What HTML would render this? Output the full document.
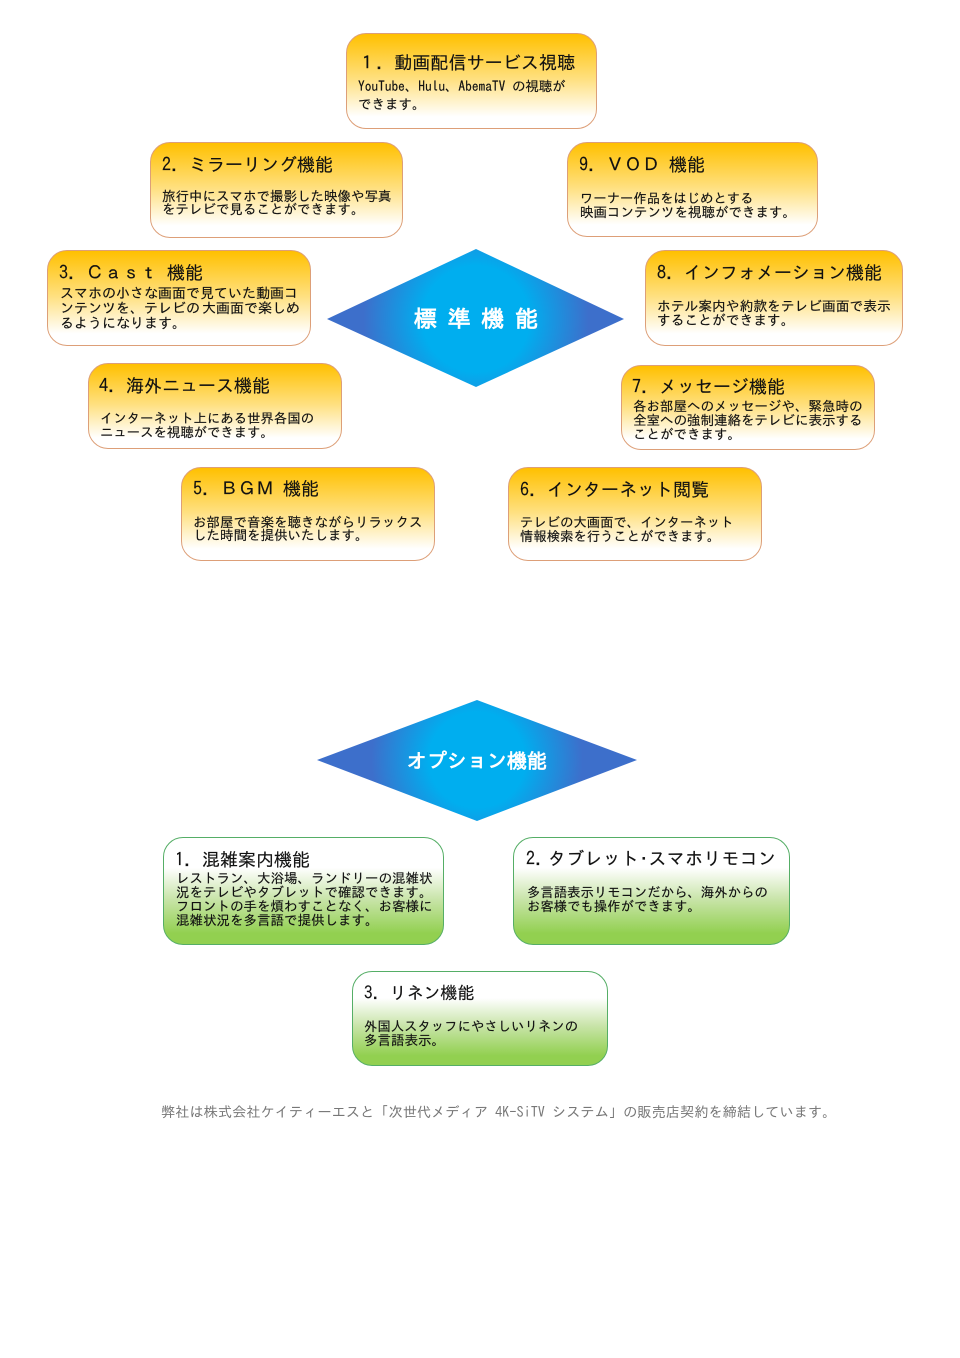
<!DOCTYPE html>
<html lang="ja"><head><meta charset="utf-8">
<style>
html,body{margin:0;padding:0;background:#fff}
#p{position:relative;width:960px;height:1358px;overflow:hidden;font-family:"Liberation Sans","IPAGothic","Noto Sans CJK JP",sans-serif;color:#111}
.b{position:absolute;box-sizing:border-box;border-radius:20px}
.o{border:1px solid #dd9f78;background:linear-gradient(#ffc000 0%,#ffe080 48%,#fff 88%)}
.g{border:1px solid #55ae66;background:linear-gradient(#fff 0%,#fff 28%,#c8e4a8 58%,#92d050 90%)}
.t,.l{position:absolute;white-space:pre;font-family:"IPAGothic","Noto Sans CJK JP",monospace;line-height:20px;height:20px;-webkit-text-stroke:.15px #111}
.t{font-size:18px}
.l{font-size:13.5px}
</style></head><body><div id="p">
<svg width="960" height="1358" style="position:absolute;left:0;top:0">
<defs>
<radialGradient id="d1" gradientUnits="userSpaceOnUse" cx="476" cy="319" r="148"><stop offset="0.36" stop-color="#00aeef"/><stop offset="0.76" stop-color="#3d6fcb"/></radialGradient>
<radialGradient id="d2" gradientUnits="userSpaceOnUse" cx="477" cy="760" r="160"><stop offset="0.3" stop-color="#00aeef"/><stop offset="0.66" stop-color="#3d6fcb"/></radialGradient>
</defs>
<polygon points="327,319 476,249 624,319 476,387" fill="url(#d1)"/>
<polygon points="317,760 477,700 637,760 477,821" fill="url(#d2)"/>
<text x="414" y="327" fill="#fff" font-size="23" font-weight="bold" letter-spacing="10.7" font-family="IPAGothic,'Noto Sans CJK JP',sans-serif">標準機能</text>
<text x="477" y="768" text-anchor="middle" fill="#fff" font-size="20" font-weight="bold" font-family="IPAGothic,'Noto Sans CJK JP',sans-serif">オプション機能</text>
</svg>

<div class="b o" style="left:345.5px;top:33px;width:251.5px;height:96px"></div>
<div class="t" style="left:358px;top:53px;font-size:18px;letter-spacing:.1px">１．動画配信サービス視聴</div>
<div class="l" style="left:358px;top:76px;font-size:13.4px">YouTube、Hulu、AbemaTV の視聴が</div>
<div class="l" style="left:358px;top:94px">できます。</div>

<div class="b o" style="left:149.5px;top:142px;width:253.5px;height:96px"></div>
<div class="t" style="left:162px;top:155px">2. ミラーリング機能</div>
<div class="l" style="left:162px;top:186px">旅行中にスマホで撮影した映像や写真</div>
<div class="l" style="left:162px;top:199px">をテレビで見ることができます。</div>

<div class="b o" style="left:567px;top:142px;width:251px;height:95px"></div>
<div class="t" style="left:579px;top:155px">9. ＶＯＤ 機能</div>
<div class="l" style="left:580px;top:188px;font-size:13.35px">ワーナー作品をはじめとする</div>
<div class="l" style="left:580px;top:202px">映画コンテンツを視聴ができます。</div>

<div class="b o" style="left:47px;top:250px;width:264px;height:96px"></div>
<div class="t" style="left:59px;top:263px">3. Ｃａｓｔ 機能</div>
<div class="l" style="left:60px;top:283px;font-size:14px">スマホの小さな画面で見ていた動画コ</div>
<div class="l" style="left:60px;top:298px;font-size:14px">ンテンツを、テレビの<span style="margin-left:2px">大画面で楽しめ</span></div>
<div class="l" style="left:60px;top:313px;font-size:14px">るようになります。</div>

<div class="b o" style="left:644.5px;top:250px;width:258.5px;height:96px"></div>
<div class="t" style="left:657px;top:263px">8. インフォメーション機能</div>
<div class="l" style="left:657px;top:296px;font-size:13.76px">ホテル案内や約款をテレビ画面で表示</div>
<div class="l" style="left:657px;top:310px;font-size:13.76px">することができます。</div>

<div class="b o" style="left:88px;top:363px;width:254px;height:86px"></div>
<div class="t" style="left:99px;top:376px">4. 海外ニュース機能</div>
<div class="l" style="left:100px;top:408px;font-size:13.38px">インターネット上にある世界各国の</div>
<div class="l" style="left:100px;top:422px;font-size:13.38px">ニュースを視聴ができます。</div>

<div class="b o" style="left:621px;top:365px;width:254px;height:85px"></div>
<div class="t" style="left:632px;top:377px">7. メッセージ機能</div>
<div class="l" style="left:633px;top:396px">各お部屋へのメッセージや、緊急時の</div>
<div class="l" style="left:633px;top:410px">全室への強制連絡をテレビに表示する</div>
<div class="l" style="left:633px;top:424px">ことができます。</div>

<div class="b o" style="left:180.5px;top:467px;width:254px;height:94px"></div>
<div class="t" style="left:193px;top:479px">5. ＢＧＭ 機能</div>
<div class="l" style="left:193px;top:512px">お部屋で音楽を聴きながらリラックス</div>
<div class="l" style="left:193px;top:525px">した時間を提供いたします。</div>

<div class="b o" style="left:508px;top:467px;width:254px;height:94px"></div>
<div class="t" style="left:520px;top:480px">6. インターネット閲覧</div>
<div class="l" style="left:520px;top:512px;font-size:13.35px">テレビの大画面で、インターネット</div>
<div class="l" style="left:520px;top:526px;font-size:13.35px">情報検索を行うことができます。</div>

<div class="b g" style="left:163px;top:836.5px;width:281px;height:108px"></div>
<div class="t" style="left:175px;top:850px">1. 混雑案内機能</div>
<div class="l" style="left:176px;top:868px">レストラン、大浴場、ランドリーの混雑状</div>
<div class="l" style="left:176px;top:882px">況をテレビやタブレットで確認できます。</div>
<div class="l" style="left:176px;top:896px">フロントの手を煩わすことなく、お客様に</div>
<div class="l" style="left:176px;top:910px">混雑状況を多言語で提供します。</div>

<div class="b g" style="left:513px;top:836.5px;width:277px;height:108px"></div>
<div class="t" style="left:526px;top:849px">2.<span style="margin-left:4px;letter-spacing:.25px">タブレット･スマホリモコン</span></div>
<div class="l" style="left:527px;top:882px;font-size:13.38px">多言語表示リモコンだから、海外からの</div>
<div class="l" style="left:527px;top:896px;font-size:13.38px">お客様でも操作ができます。</div>

<div class="b g" style="left:352px;top:971px;width:256px;height:95px"></div>
<div class="t" style="left:364px;top:984px;font-size:17px">3. リネン機能</div>
<div class="l" style="left:364px;top:1016px;font-size:13.38px">外国人スタッフにやさしいリネンの</div>
<div class="l" style="left:364px;top:1030px">多言語表示。</div>

<div class="l" style="left:161px;top:1102px;color:#777;-webkit-text-stroke:0;font-size:14.22px">弊社は株式会社ケイティーエスと「次世代メディア 4K-SiTV システム」の販売店契約を締結しています。</div>
</div></body></html>
